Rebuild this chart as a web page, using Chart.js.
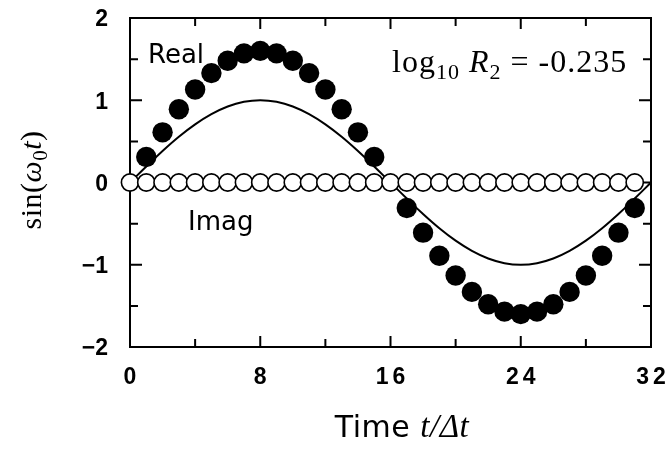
<!DOCTYPE html>
<html>
<head>
<meta charset="utf-8">
<script src="https://cdn.jsdelivr.net/npm/chart.js@4.4.0/dist/chart.umd.min.js"></script>
<style>
  html, body { margin: 0; padding: 0; background: #fff; }
  canvas { display: block; }
</style>
</head>
<body>
<canvas id="chart" width="670" height="452"></canvas>
<script>
// sample index t/Δt
const steps = [0, 1, 2, 3, 4, 5, 6, 7, 8, 9, 10, 11, 12, 13, 14, 15,
  16, 17, 18, 19, 20, 21, 22, 23, 24, 25, 26, 27, 28, 29, 30, 31];
// real part of the filtered signal (t=0 and t=16 sit under the open circles)
const realPart = [null, 0.31, 0.61, 0.89, 1.13, 1.33, 1.48, 1.57, 1.60, 1.57, 1.48, 1.33, 1.13, 0.89, 0.61, 0.31,
  null, -0.31, -0.61, -0.89, -1.13, -1.33, -1.48, -1.57, -1.60, -1.57, -1.48, -1.33, -1.13, -0.89, -0.61, -0.31];
// imaginary part stays on zero
const imagPart = [0, 0, 0, 0, 0, 0, 0, 0, 0, 0, 0, 0, 0, 0, 0, 0,
  0, 0, 0, 0, 0, 0, 0, 0, 0, 0, 0, 0, 0, 0, 0, 0];
// input sinusoid sin(w0 t)
const curveT = [0, 1, 2, 3, 4, 5, 6, 7, 8, 9, 10, 11, 12, 13, 14, 15, 16,
  17, 18, 19, 20, 21, 22, 23, 24, 25, 26, 27, 28, 29, 30, 31, 32];
const curveY = [0, 0.195, 0.383, 0.556, 0.707, 0.831, 0.924, 0.981, 1, 0.981, 0.924, 0.831, 0.707, 0.556, 0.383, 0.195, 0,
  -0.195, -0.383, -0.556, -0.707, -0.831, -0.924, -0.981, -1, -0.981, -0.924, -0.831, -0.707, -0.556, -0.383, -0.195, 0];

const xTicks = [0, 8, 16, 24, 32];
const xMinor = [4, 12, 20, 28];
const yTicks = [-2, -1, 0, 1, 2];
const yMinor = [-1.5, -0.5, 0.5, 1.5];

const serif = '"Liberation Serif", "DejaVu Serif", serif';
const sans = '"DejaVu Sans", sans-serif';
const tickFont = 'bold 23px "Liberation Sans", Arial, sans-serif';

// draws a row of text pieces with their own fonts / vertical shifts
function drawRuns(ctx, runs, x, y, align, spacing) {
  ctx.letterSpacing = (spacing || 0) + 'px';
  let total = 0;
  runs.forEach(r => { ctx.font = r.font; total += ctx.measureText(r.text).width; });
  let cx = align === 'center' ? x - total / 2 : x;
  ctx.textAlign = 'left';
  ctx.textBaseline = 'alphabetic';
  runs.forEach(r => {
    ctx.font = r.font;
    ctx.fillText(r.text, cx, y + (r.dy || 0));
    cx += ctx.measureText(r.text).width;
  });
  ctx.letterSpacing = '0px';
}

const framePlugin = {
  id: 'frame',
  beforeDatasetsDraw(chart) {
    const { ctx, chartArea: a, scales: { x, y } } = chart;
    ctx.save();
    ctx.strokeStyle = '#000';
    ctx.lineWidth = 2;
    ctx.strokeRect(a.left, a.top, a.right - a.left, a.bottom - a.top);
    ctx.beginPath();
    const tickX = (vals, len) => vals.forEach(v => {
      const px = x.getPixelForValue(v);
      ctx.moveTo(px, a.bottom); ctx.lineTo(px, a.bottom - len);
      ctx.moveTo(px, a.top); ctx.lineTo(px, a.top + len);
    });
    const tickY = (vals, len) => vals.forEach(v => {
      const py = y.getPixelForValue(v);
      ctx.moveTo(a.left, py); ctx.lineTo(a.left + len, py);
      ctx.moveTo(a.right, py); ctx.lineTo(a.right - len, py);
    });
    tickX(xTicks, 11); tickX(xMinor, 8);
    tickY(yTicks, 12); tickY(yMinor, 8);
    ctx.stroke();
    ctx.restore();
  },
  afterDraw(chart) {
    const { ctx, scales: { x, y } } = chart;
    ctx.save();
    ctx.fillStyle = '#000';

    // tick labels
    ctx.font = tickFont;
    ctx.letterSpacing = '4px';
    ctx.textAlign = 'center';
    ctx.textBaseline = 'top';
    xTicks.forEach(v => ctx.fillText(String(v), x.getPixelForValue(v) + 2, 366));
    ctx.letterSpacing = '0px';
    ctx.textAlign = 'right';
    ctx.textBaseline = 'middle';
    yTicks.forEach(v => ctx.fillText(v < 0 ? '\u2212' + (-v) : String(v), 108, y.getPixelForValue(v) + 2));

    // series labels
    ctx.font = '26px ' + sans;
    ctx.textAlign = 'left';
    ctx.textBaseline = 'alphabetic';
    ctx.fillText('Real', 148, 63);
    ctx.fillText('Imag', 188, 230);

    // ratio annotation
    drawRuns(ctx, [
      { text: 'log', font: '32px ' + serif },
      { text: '10', font: '22px ' + serif, dy: 7 },
      { text: ' ', font: '32px ' + serif },
      { text: 'R', font: 'italic 32px ' + serif },
      { text: '2', font: '22px ' + serif, dy: 7 },
      { text: ' = -0.235', font: '32px ' + serif }
    ], 392, 72, 'left', 1);

    // x axis title
    drawRuns(ctx, [
      { text: 'Time ', font: '30px ' + sans },
      { text: 't/\u0394t', font: 'italic 33px ' + serif }
    ], 402, 437, 'center', 0.5);

    // y axis title
    ctx.translate(41, 180);
    ctx.rotate(-Math.PI / 2);
    drawRuns(ctx, [
      { text: 'sin(', font: '30px ' + serif },
      { text: '\u03c9', font: 'italic 30px ' + serif },
      { text: '0', font: '21px ' + serif, dy: 6 },
      { text: 't', font: 'italic 30px ' + serif },
      { text: ')', font: '30px ' + serif }
    ], 0, 0, 'center', 0.5);
    ctx.restore();
  }
};

new Chart(document.getElementById('chart'), {
  type: 'scatter',
  data: {
    datasets: [
      {
        label: 'Imag',
        data: steps.map((t, i) => ({ x: t, y: imagPart[i] })),
        pointRadius: 8.6,
        pointBackgroundColor: '#fff',
        pointBorderColor: '#000',
        pointBorderWidth: 1.6,
        showLine: false,
        clip: false,
        order: 0
      },
      {
        label: 'Real',
        data: steps.map((t, i) => ({ x: t, y: realPart[i] })),
        pointRadius: 10.2,
        pointBackgroundColor: '#000',
        pointBorderColor: '#000',
        pointBorderWidth: 0,
        showLine: false,
        clip: false,
        order: 1
      },
      {
        label: 'sin',
        data: curveT.map((t, i) => ({ x: t, y: curveY[i] })),
        showLine: true,
        borderColor: '#000',
        borderWidth: 2,
        tension: 0.4,
        pointRadius: 0,
        clip: false,
        order: 2
      }
    ]
  },
  options: {
    responsive: false,
    animation: false,
    devicePixelRatio: 1,
    layout: { padding: { left: 130, right: 19, top: 18, bottom: 105 } },
    plugins: { legend: { display: false }, tooltip: { enabled: false } },
    scales: {
      x: { type: 'linear', min: 0, max: 32, display: false },
      y: { type: 'linear', min: -2, max: 2, display: false }
    }
  },
  plugins: [framePlugin]
});
</script>
</body>
</html>
